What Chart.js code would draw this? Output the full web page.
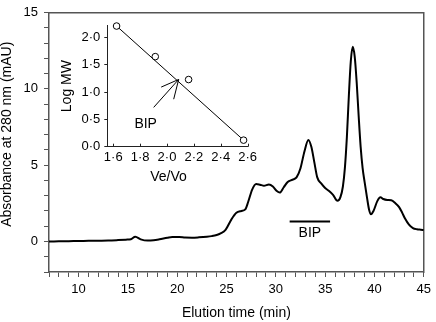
<!DOCTYPE html>
<html>
<head>
<meta charset="utf-8">
<script src="https://cdn.jsdelivr.net/npm/chart.js@4.4.1/dist/chart.umd.min.js"></script>
<style>
body { margin: 0; background: #fff; }
#holder { position: relative; width: 436px; height: 322px; }
#mainChart { position: absolute; left: 0; top: 0; }
#insetChart { position: absolute; left: 55px; top: 15px; }
</style>
</head>
<body>
<div id="holder">
<canvas id="mainChart" width="436" height="322"></canvas>
<canvas id="insetChart" width="205" height="172"></canvas>
</div>
<script>
// main trace
const elutionTime = [7, 8, 9, 10, 11, 12, 13, 14, 14.8, 15.3, 15.75, 16.3, 17.0, 17.6, 18.2, 19.0, 19.5, 20.2, 20.8, 21.5, 22.2, 23.0, 23.5, 24.0, 24.4, 24.9, 25.5, 26.0, 26.5, 26.9, 27.2, 27.6, 28.0, 28.4, 28.8, 29.3, 29.7, 30.1, 30.4, 30.8, 31.2, 31.7, 32.1, 32.5, 32.9, 33.3, 33.6, 33.9, 34.2, 34.6, 35.0, 35.4, 35.8, 36.25, 36.55, 36.8, 37.0, 37.2, 37.4, 37.6, 37.8, 38.0, 38.2, 38.4, 38.6, 38.8, 39.0, 39.25, 39.45, 39.65, 39.9, 40.3, 40.6, 40.9, 41.3, 41.7, 42.1, 42.5, 42.8, 43.1, 43.5, 43.9, 44.3, 44.7, 45];
const absorbance = [0.0, 0.01, 0.02, 0.03, 0.04, 0.05, 0.06, 0.09, 0.12, 0.15, 0.31, 0.14, 0.06, 0.08, 0.14, 0.24, 0.29, 0.29, 0.26, 0.25, 0.27, 0.31, 0.35, 0.42, 0.53, 0.76, 1.45, 1.88, 2.0, 2.1, 2.6, 3.4, 3.77, 3.72, 3.65, 3.73, 3.6, 3.3, 3.2, 3.55, 3.9, 4.05, 4.2, 4.8, 5.9, 6.65, 6.2, 5.2, 4.2, 3.8, 3.5, 3.3, 3.05, 2.66, 2.9, 3.6, 4.8, 6.8, 9.5, 11.8, 12.75, 12.1, 10.4, 8.2, 6.2, 4.8, 3.9, 2.85, 2.1, 1.78, 2.0, 2.66, 2.9, 2.78, 2.72, 2.7, 2.52, 2.25, 1.9, 1.5, 1.1, 0.88, 0.8, 0.77, 0.75];
const bipBarTime = [31.4, 35.5];
const bipBarLevel = [1.31, 1.31];
const xTickLabels = [10, 15, 20, 25, 30, 35, 40, 45];
const yTickLabels = [0, 5, 10, 15];

// inset calibration
const veVo = [1.625, 1.913, 2.161, 2.57];
const logMW = [2.21, 1.65, 1.23, 0.12];
const fitVeVo = [1.625, 2.57];
const fitLogMW = [2.21, 0.12];
const arrowVeVo = [1.901, 2.087];
const arrowLogMW = [0.72, 1.232];
const arrowHeadVeVo = [1.957, 2.087, 2.05];
const arrowHeadLogMW = [1.092, 1.232, 0.87];
const insetXTicks = [1.6, 1.8, 2.0, 2.2, 2.4, 2.6];
const insetYTicks = [0, 0.5, 1.0, 1.5, 2.0];

const fontFamily = "'Liberation Sans', Arial, sans-serif";
const frameColor = "#555";

function toPoints(xs, ys) {
    return xs.map((x, i) => ({x: x, y: ys[i]}));
}

function dotLabel(v) {
    return v.toFixed(1).replace(".", "\u00b7");
}

const mainTextPlugin = {
    id: "mainText",
    afterDraw(chart) {
        const ctx = chart.ctx;
        const area = chart.chartArea;
        ctx.save();
        ctx.fillStyle = "#000";
        ctx.font = "14px " + fontFamily;
        ctx.textAlign = "center";
        ctx.textBaseline = "middle";
        ctx.save();
        ctx.translate(7, (area.top + area.bottom) / 2 - 8);
        ctx.rotate(-Math.PI / 2);
        ctx.fillText("Absorbance at 280 nm (mAU)", 0, 0);
        ctx.restore();
        const x = chart.scales.x.getPixelForValue((bipBarTime[0] + bipBarTime[1]) / 2);
        const y = chart.scales.y.getPixelForValue(bipBarLevel[0]) + 12;
        ctx.fillText("BIP", x, y);
        ctx.restore();
    }
};

const insetTextPlugin = {
    id: "insetText",
    afterDraw(chart) {
        const ctx = chart.ctx;
        const area = chart.chartArea;
        const xs = chart.scales.x;
        const ys = chart.scales.y;
        ctx.save();
        ctx.strokeStyle = "#222";
        ctx.lineWidth = 1;
        ctx.beginPath();
        for (let i = 0; i < insetXTicks.length; i++) {
            const px = Math.round(xs.getPixelForValue(insetXTicks[i])) + 0.5;
            ctx.moveTo(px, area.bottom);
            ctx.lineTo(px, area.bottom - 3);
        }
        ctx.stroke();
        ctx.fillStyle = "#000";
        ctx.font = "14px " + fontFamily;
        ctx.textAlign = "center";
        ctx.textBaseline = "middle";
        ctx.fillText("Ve/Vo", (area.left + area.right) / 2 - 9, 162);
        ctx.fillText("BIP", xs.getPixelForValue(arrowVeVo[0]) - 8, ys.getPixelForValue(arrowLogMW[0]) + 17);
        ctx.restore();
    }
};

document.addEventListener("DOMContentLoaded", () => {
    Chart.defaults.font.family = fontFamily;
    Chart.defaults.color = "#000";

    const mainCanvas = document.getElementById("mainChart");
    const mainChart = new Chart(mainCanvas, {
        type: "scatter",
        data: {
            datasets: [{
                data: toPoints(elutionTime, absorbance),
                showLine: true,
                borderColor: "#000",
                borderWidth: 2,
                pointRadius: 0,
                cubicInterpolationMode: "monotone"
            }, {
                data: toPoints(bipBarTime, bipBarLevel),
                showLine: true,
                borderColor: "#000",
                borderWidth: 2,
                pointRadius: 0
            }]
        },
        options: {
            responsive: false,
            animation: false,
            events: [],
            layout: {padding: {top: 7, right: 9, left: 0, bottom: 0}},
            plugins: {legend: {display: false}, tooltip: {enabled: false}},
            scales: {
                x: {
                    type: "linear",
                    position: "bottom",
                    min: 7,
                    max: 45,
                    afterBuildTicks: (scale) => {
                        const t = [];
                        for (let v = 7; v <= 45; v++) t.push({value: v});
                        scale.ticks = t;
                    },
                    afterFit: (scale) => { scale.height = 50; },
                    ticks: {
                        autoSkip: false,
                        maxRotation: 0,
                        padding: 5,
                        font: {size: 13},
                        callback: (v) => xTickLabels.includes(v) ? String(v) : ""
                    },
                    grid: {drawOnChartArea: false, tickLength: 5, color: frameColor},
                    border: {color: frameColor, width: 1.5},
                    title: {display: true, text: "Elution time (min)", font: {size: 14}, padding: {top: 0, bottom: 0}}
                },
                y: {
                    type: "linear",
                    position: "left",
                    min: -2,
                    max: 15,
                    afterBuildTicks: (scale) => {
                        const t = [];
                        for (let v = -2; v <= 15; v++) t.push({value: v});
                        scale.ticks = t;
                    },
                    afterFit: (scale) => { scale.width = 49; },
                    ticks: {
                        autoSkip: false,
                        padding: 6,
                        font: {size: 13, lineHeight: 1},
                        callback: (v) => yTickLabels.includes(v) ? String(v) : ""
                    },
                    grid: {drawOnChartArea: false, tickLength: 5, color: frameColor},
                    border: {color: frameColor, width: 1.5}
                },
                xTop: {
                    type: "linear",
                    position: "top",
                    min: 7,
                    max: 45,
                    afterFit: (scale) => { scale.height = 0; },
                    ticks: {display: false},
                    grid: {drawOnChartArea: false, drawTicks: false},
                    border: {color: frameColor, width: 1.5}
                },
                yRight: {
                    type: "linear",
                    position: "right",
                    min: -2,
                    max: 15,
                    afterFit: (scale) => { scale.width = 0; },
                    ticks: {display: false},
                    grid: {drawOnChartArea: false, drawTicks: false},
                    border: {color: frameColor, width: 1.5}
                }
            }
        },
        plugins: [mainTextPlugin]
    });

    const insetCanvas = document.getElementById("insetChart");
    const insetChart = new Chart(insetCanvas, {
        type: "scatter",
        data: {
            datasets: [{
                data: toPoints(veVo, logMW),
                pointRadius: 3.3,
                pointBorderWidth: 1,
                pointBackgroundColor: "#fff",
                pointBorderColor: "#000",
                clip: false
            }, {
                data: toPoints(fitVeVo, fitLogMW),
                showLine: true,
                borderColor: "#000",
                borderWidth: 1,
                pointRadius: 0,
                clip: false
            }, {
                data: toPoints(arrowVeVo, arrowLogMW),
                showLine: true,
                borderColor: "#000",
                borderWidth: 1,
                pointRadius: 0
            }, {
                data: toPoints(arrowHeadVeVo, arrowHeadLogMW),
                showLine: true,
                borderColor: "#000",
                borderWidth: 1,
                pointRadius: 0
            }]
        },
        options: {
            responsive: false,
            animation: false,
            events: [],
            layout: {padding: {top: 9, right: 9.3, left: 0, bottom: 0}},
            plugins: {legend: {display: false}, tooltip: {enabled: false}},
            scales: {
                x: {
                    type: "linear",
                    min: 1.556,
                    max: 2.6,
                    afterBuildTicks: (scale) => {
                        scale.ticks = insetXTicks.map((v) => ({value: v}));
                    },
                    afterFit: (scale) => { scale.height = 40.3; },
                    ticks: {
                        autoSkip: false,
                        maxRotation: 0,
                        padding: 3,
                        font: {size: 13},
                        callback: (v) => dotLabel(v)
                    },
                    grid: {drawOnChartArea: false, drawTicks: false},
                    border: {color: "#222", width: 1}
                },
                y: {
                    type: "linear",
                    min: 0,
                    max: 2.22,
                    afterBuildTicks: (scale) => {
                        scale.ticks = insetYTicks.map((v) => ({value: v}));
                    },
                    afterFit: (scale) => { scale.width = 52.3; },
                    ticks: {
                        autoSkip: false,
                        padding: 4,
                        font: {size: 13, lineHeight: 1},
                        callback: (v) => dotLabel(v)
                    },
                    grid: {drawOnChartArea: false, tickLength: 3, color: "#222"},
                    border: {color: "#222", width: 1},
                    title: {display: true, text: "Log MW", font: {size: 14}, padding: {top: 3.3, bottom: 0}}
                }
            }
        },
        plugins: [insetTextPlugin]
    });
});
</script>
</body>
</html>
